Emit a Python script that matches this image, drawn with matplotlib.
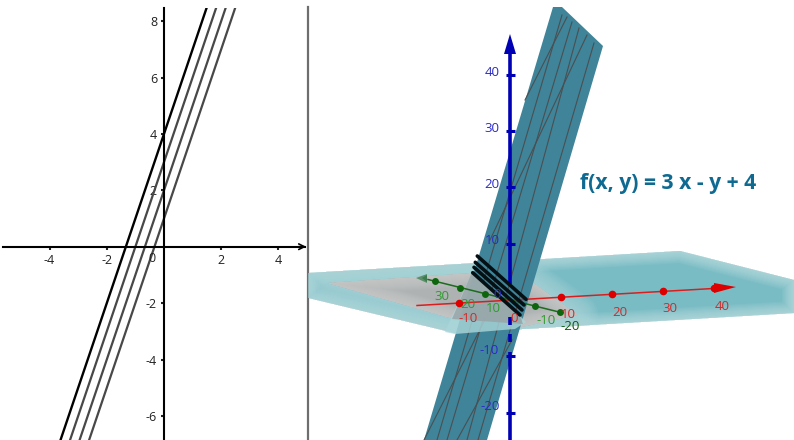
#-----------------------------------------------------------------
# f(x, y) = 3x - y + 4 : level lines (left) and 3D surface (right)
#-----------------------------------------------------------------
import matplotlib
matplotlib.use('Agg')
import matplotlib.pyplot as plt
from matplotlib.patches import Polygon
import numpy as np

plt.rcParams['font.family'] = ['Open Sans', 'DejaVu Sans']

W, H = 794, 440

# left view: level lines y = 3x + c
slope = 3
level_main = 4
levels = [3, 2, 1]
x_ticks = [-4, -2, 2, 4]
y_ticks = [-6, -4, -2, 2, 4, 6, 8]

# right view: axis values
red_ticks = [-10, 10, 20, 30, 40]
green_ticks = [30, 20, 10, -10, -20]
blue_ticks = [40, 30, 20, 10, -10, -20]
red_labels = [(468, 319, '-10'), (568, 314, '10'), (620, 312, '20'), (670, 308, '30'),
              (722, 306, '40'), (514, 318, '0')]
green_labels = [(442, 297, '30'), (468, 304, '20'), (493, 309, '10'), (546, 321, '-10')]
blue_labels = [(492, 72, '40'), (492, 128, '30'), (492, 184, '20'), (492, 240, '10'),
               (489, 351, '-10'), (490, 407, '-20'), (497, 295, '0')]

# outlines of the surfaces, in screen pixels of the 3D render
plane_x = [308.5, 680, 794, 794, 455, 308.5]
plane_y = [273, 251, 280, 313, 333, 298]
gray_x = [327, 473, 532, 578, 517, 450]
gray_y = [283, 273, 282, 315, 328, 318]
sheet_x = [553, 562, 603, 487, 424]
sheet_y = [7, 7, 46, 440, 440]
front_x = [472, 520, 526, 515, 455, 445]
front_y = [272, 316, 322, 329, 334, 332]
front_gray_x = [472, 520, 523, 452]
front_gray_y = [272, 316, 324, 319]
rulings = [
    [(562, 15), (437, 440)], [(572, 22), (447, 440)], [(579, 28), (467, 440)],
    [(594, 43), (478, 440)], [(567, 17), (525, 100)], [(587, 35), (490, 240)],
    [(424, 440), (500, 290)], [(457, 440), (512, 340)],
]
contours = [
    [(477.3, 256), (526, 299.3)], [(475.3, 262.3), (524, 305)],
    [(474, 267.3), (522, 310)], [(472.7, 272.7), (520, 315)],
]

fig = plt.figure(figsize=(W / 100, H / 100), dpi=100)

# --- left: 2D graph
ax = fig.add_axes([3 / W, 0, 302 / W, 432 / H])
ax.set_xlim((3 - 164) / 28.6, (305 - 164) / 28.6)
ax.set_ylim(-(440 - 246.7) / 28.2, (246.7 - 8) / 28.2)
ax.patch.set_alpha(0)
xs = np.array([-6.0, 6.0])
for c in levels:
    ax.plot(xs, slope * xs + c, color='#484848', lw=1.6)
ax.plot(xs, slope * xs + level_main, color='black', lw=1.7)

for s in ['top', 'right']:
    ax.spines[s].set_visible(False)
for s in ['left', 'bottom']:
    ax.spines[s].set_position('zero')
    ax.spines[s].set_linewidth(1.5)
ax.set_xticks(x_ticks)
ax.set_yticks(y_ticks)
ax.set_xticklabels([str(v) for v in x_ticks])
ax.set_yticklabels([str(v) for v in y_ticks])
ax.tick_params(length=2, width=1.5, labelsize=9, colors='#222222', pad=3, direction='out')
ax.text(-0.42, -0.42, '0', fontsize=9, color='#222222', ha='center', va='center')
ax.annotate('', xy=(4.97, 0), xytext=(4.7, 0), annotation_clip=False,
            arrowprops=dict(arrowstyle='->', lw=1.2, color='black', shrinkA=0, shrinkB=0))

# --- right: 3D view drawn in screen pixels
sc = fig.add_axes([0, 0, 1, 1])
sc.set_xlim(0, W)
sc.set_ylim(H, 0)
sc.axis('off')
sc.patch.set_alpha(0)


def soft_fill(px, py, base, edge, widths, alpha, z):
    # flat polygon, lightened towards its border with many clipped strokes
    pts = list(zip(px, py))
    poly = Polygon(pts, closed=True, fc=base, ec='none', zorder=z)
    sc.add_patch(poly)
    for w in widths:
        line = Polygon(pts, closed=True, fc='none', ec=edge, lw=w, alpha=alpha,
                       zorder=z, joinstyle='round')
        sc.add_patch(line)
        line.set_clip_path(poly)


sc.plot([307.5, 307.5], [7, 440], color='#6e6e6e', lw=1.6, zorder=1)
soft_fill(plane_x, plane_y, '#7abcc4', '#cfe9ea', np.arange(1, 18, 1.5), 0.07, 2)

# light rim of the plane around the gray part
plane_clip = Polygon(list(zip(plane_x, plane_y)), closed=True, transform=sc.transData)
for w in np.arange(2, 30, 2.5):
    halo = Polygon(list(zip(gray_x, gray_y)), closed=True, fc='none', ec='#b4dcdf', lw=w,
                   alpha=0.09, zorder=2.1, joinstyle='round')
    sc.add_patch(halo)
    halo.set_clip_path(plane_clip)
soft_fill(gray_x, gray_y, '#aeb2b2', '#dedede', np.arange(1, 20, 1.5), 0.06, 2.2)

sc.fill(sheet_x, sheet_y, color='#3f8499', lw=0, zorder=3)
for (x0, y0), (x1, y1) in rulings:
    sc.plot([x0, x1], [y0, y1], color='#4a4f52', lw=0.8, zorder=3.1)

# part of the plane that lies in front of the sheet
sc.fill(front_x, front_y, color='#abd7da', alpha=0.8, lw=0, zorder=3.2)
sc.fill(front_gray_x, front_gray_y, color='#9aa2a5', alpha=0.8, lw=0, zorder=3.3)

ox, oy = 510, 300
red_step = np.array([50.9, -3.0])
green_step = np.array([-25.0, -6.2])
sc.plot([417, 722], [305.5, 288], color='#d81f1f', lw=1.1, zorder=4)
sc.fill([714, 736, 714], [283, 287, 293], color='#dd0000', lw=0, zorder=4)
for v in red_ticks:
    p = np.array([ox, oy]) + red_step * v / 10
    sc.plot(p[0], p[1], 'o', color='#dd0000', ms=5.5, mew=0, zorder=4.2)

sc.plot([428, 559], [279.5, 312], color='#1d6b1d', lw=1.1, zorder=4)
sc.fill([416, 427, 427], [278, 274, 283], color='#4f8a60', lw=0, alpha=0.9, zorder=4)
sc.fill([422, 427, 427], [278, 275, 282], color='#3d7a4f', lw=0, zorder=4)
for v in green_ticks:
    p = np.array([ox, oy]) + green_step * v / 10
    sc.plot(p[0], p[1], 'o', color='#0d660d', ms=5, mew=0, zorder=4.2)

# blue axis, partly hidden by the plane
blue_color = '#0000b4'
blue_runs = [(54, 284), (317, 325), (334, 342), (352, 440)]
for a, b in blue_runs:
    sc.plot([510, 510], [a, b], color=blue_color, lw=2.6, solid_capstyle='butt', zorder=4.5)
sc.fill([504, 510, 516], [54, 34, 54], color=blue_color, lw=0, zorder=4.5)
for v in blue_ticks:
    y = oy - 5.63 * v
    sc.plot([505.5, 514.5], [y, y], color=blue_color, lw=2.2, solid_capstyle='butt', zorder=4.5)

for (x0, y0), (x1, y1) in contours:
    sc.plot([x0, x1], [y0, y1], color='#051015', lw=2.6, solid_capstyle='round', zorder=5)

for x, y, s in red_labels:
    sc.text(x, y, s, color='#d02a2a', fontsize=9.5, ha='center', va='center', zorder=6)
for x, y, s in green_labels:
    sc.text(x, y, s, color='#2f9a2f', fontsize=9.5, ha='center', va='center', zorder=6)
sc.text(570, 327, '-20', color='#0d5a0d', fontsize=9.5, ha='center', va='center', zorder=6)
for x, y, s in blue_labels:
    sc.text(x, y, s, color='#2a2ac8', fontsize=9.5, ha='center', va='center', zorder=6)

sc.text(580, 183, 'f(x, y) = 3 x - y + 4', color='#0f6a92', fontsize=15.2, fontweight='bold',
        ha='left', va='center', zorder=6)

fig.savefig('out.png', dpi=100)
